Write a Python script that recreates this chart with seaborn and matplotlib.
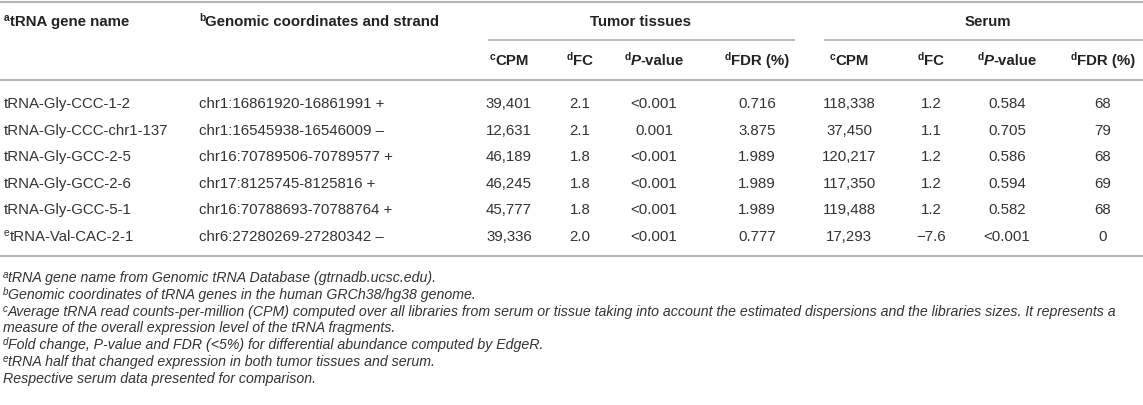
import matplotlib
matplotlib.use("Agg")
import matplotlib.pyplot as plt
import seaborn as sns

# ---------------- data ----------------
gene_names = ["tRNA-Gly-CCC-1-2", "tRNA-Gly-CCC-chr1-137", "tRNA-Gly-GCC-2-5",
              "tRNA-Gly-GCC-2-6", "tRNA-Gly-GCC-5-1", "tRNA-Val-CAC-2-1"]
gene_marks = ["", "", "", "", "", "e"]
coords = ["chr1:16861920-16861991 +", "chr1:16545938-16546009 \u2013",
          "chr16:70789506-70789577 +", "chr17:8125745-8125816 +",
          "chr16:70788693-70788764 +", "chr6:27280269-27280342 \u2013"]
tumor_cpm = [39401, 12631, 46189, 46245, 45777, 39336]
tumor_fc = [2.1, 2.1, 1.8, 1.8, 1.8, 2.0]
tumor_p = ["<0.001", "0.001", "<0.001", "<0.001", "<0.001", "<0.001"]
tumor_fdr = ["0.716", "3.875", "1.989", "1.989", "1.989", "0.777"]
serum_cpm = [118338, 37450, 120217, 117350, 119488, 17293]
serum_fc = [1.2, 1.1, 1.2, 1.2, 1.2, -7.6]
serum_p = ["0.584", "0.705", "0.586", "0.594", "0.582", "<0.001"]
serum_fdr = ["68", "79", "68", "69", "68", "0"]

groups = ["Tumor tissues", "Serum"]
sub_headers = [("c", "CPM", ""), ("d", "FC", ""), ("d", "P", "-value"), ("d", "FDR (%)", "")]

footnotes = [
    ("a", "tRNA gene name from Genomic tRNA Database (gtrnadb.ucsc.edu)."),
    ("b", "Genomic coordinates of tRNA genes in the human GRCh38/hg38 genome."),
    ("c", "Average tRNA read counts-per-million (CPM) computed over all libraries from serum or tissue taking into account the estimated dispersions and the libraries sizes. It represents a"),
    ("", "measure of the overall expression level of the tRNA fragments."),
    ("d", "Fold change, P-value and FDR (<5%) for differential abundance computed by EdgeR."),
    ("e", "tRNA half that changed expression in both tumor tissues and serum."),
    ("", "Respective serum data presented for comparison."),
]

# ---------------- style ----------------
sns.set_theme(style="white")
plt.rcParams["font.family"] = ["Liberation Sans", "DejaVu Sans"]

W, H = 1143, 406
fig = plt.figure(figsize=(W / 100, H / 100), dpi=100)
ax = fig.add_axes([0, 0, 1, 1])
ax.set_xlim(0, W)
ax.set_ylim(H, 0)
ax.axis("off")
sns.despine(ax=ax, left=True, bottom=True)

TXT = "#333333"
HDR = "#222222"
LINE = "#b5b5b5"
BODY = 10.8
HEAD = 10.8
SUP = 7.4
FOOT = 10.2
FSUP = 7.0

fig.canvas.draw()
renderer = fig.canvas.get_renderer()


def width_of(t):
    return t.get_window_extent(renderer=renderer).width


def runs(x, y, parts, ha="left"):
    """parts: list of (string, kwargs, raise_px)"""
    objs = []
    for s, kw, r in parts:
        t = ax.text(0, y - r, s, va="baseline", ha="left", **kw)
        objs.append((t, width_of(t)))
    total = sum(w for _, w in objs)
    if ha == "center":
        cur = x - total / 2
    elif ha == "right":
        cur = x - total
    else:
        cur = x
    for t, w in objs:
        t.set_x(cur)
        cur += w


# ---------------- layout ----------------
x_gene, x_coord = 4, 199
tumor_x = [509, 580, 654, 757]
serum_x = [849, 931, 1007, 1103]
y_h1, y_h2 = 21, 60
row_y = [103 + 26.6 * i for i in range(6)]
base = 5

# rules
for yl in (3, 81, 257):
    ax.plot([0, W], [yl, yl], color=LINE, lw=1.5, solid_capstyle="butt")
ax.plot([488, 795], [41, 41], color=LINE, lw=1.3, solid_capstyle="butt")
ax.plot([824, W], [41, 41], color=LINE, lw=1.3, solid_capstyle="butt")

hb = dict(fontsize=HEAD, fontweight="bold", color=HDR)
hs = dict(fontsize=SUP, fontweight="bold", color=HDR)

runs(x_gene, y_h1 + base, [("a", hs, 5), ("tRNA gene name", hb, 0)])
runs(x_coord, y_h1 + base, [("b", hs, 5), ("Genomic coordinates and strand", hb, 0)])
ax.text(641, y_h1 + base, groups[0], ha="center", va="baseline", **hb)
ax.text(988, y_h1 + base, groups[1], ha="center", va="baseline", **hb)

for xs in (tumor_x, serum_x):
    for xc, (sup, main, tail) in zip(xs, sub_headers):
        parts = [(sup, hs, 5)]
        if tail:
            parts.append((main, dict(hb, fontstyle="italic"), 0))
            parts.append((tail, hb, 0))
        else:
            parts.append((main, hb, 0))
        runs(xc, y_h2 + base, parts, ha="center")

db = dict(fontsize=BODY, color=TXT)
ds = dict(fontsize=SUP, color=TXT)


def fmt_fc(v):
    return f"{v:.1f}".replace("-", "\u2212")


for i, y in enumerate(row_y):
    yb = y + base
    parts = []
    if gene_marks[i]:
        parts.append((gene_marks[i], ds, 5))
    parts.append((gene_names[i], db, 0))
    runs(x_gene, yb, parts)
    ax.text(x_coord, yb, coords[i], ha="left", va="baseline", **db)
    tvals = [f"{tumor_cpm[i]:,}", fmt_fc(tumor_fc[i]), tumor_p[i], tumor_fdr[i]]
    svals = [f"{serum_cpm[i]:,}", fmt_fc(serum_fc[i]), serum_p[i], serum_fdr[i]]
    for xc, v in zip(tumor_x, tvals):
        ax.text(xc, yb, v, ha="center", va="baseline", **db)
    for xc, v in zip(serum_x, svals):
        ax.text(xc, yb, v, ha="center", va="baseline", **db)

fb = dict(fontsize=FOOT, fontstyle="italic", color=TXT)
fs = dict(fontsize=FSUP, fontstyle="italic", color=TXT)
for i, (sup, txt) in enumerate(footnotes):
    y = 277 + 16.8 * i + 5
    parts = []
    if sup:
        parts.append((sup, fs, 4))
    parts.append((txt, fb, 0))
    runs(3, y, parts)

fig.savefig("out.png", dpi=100)
